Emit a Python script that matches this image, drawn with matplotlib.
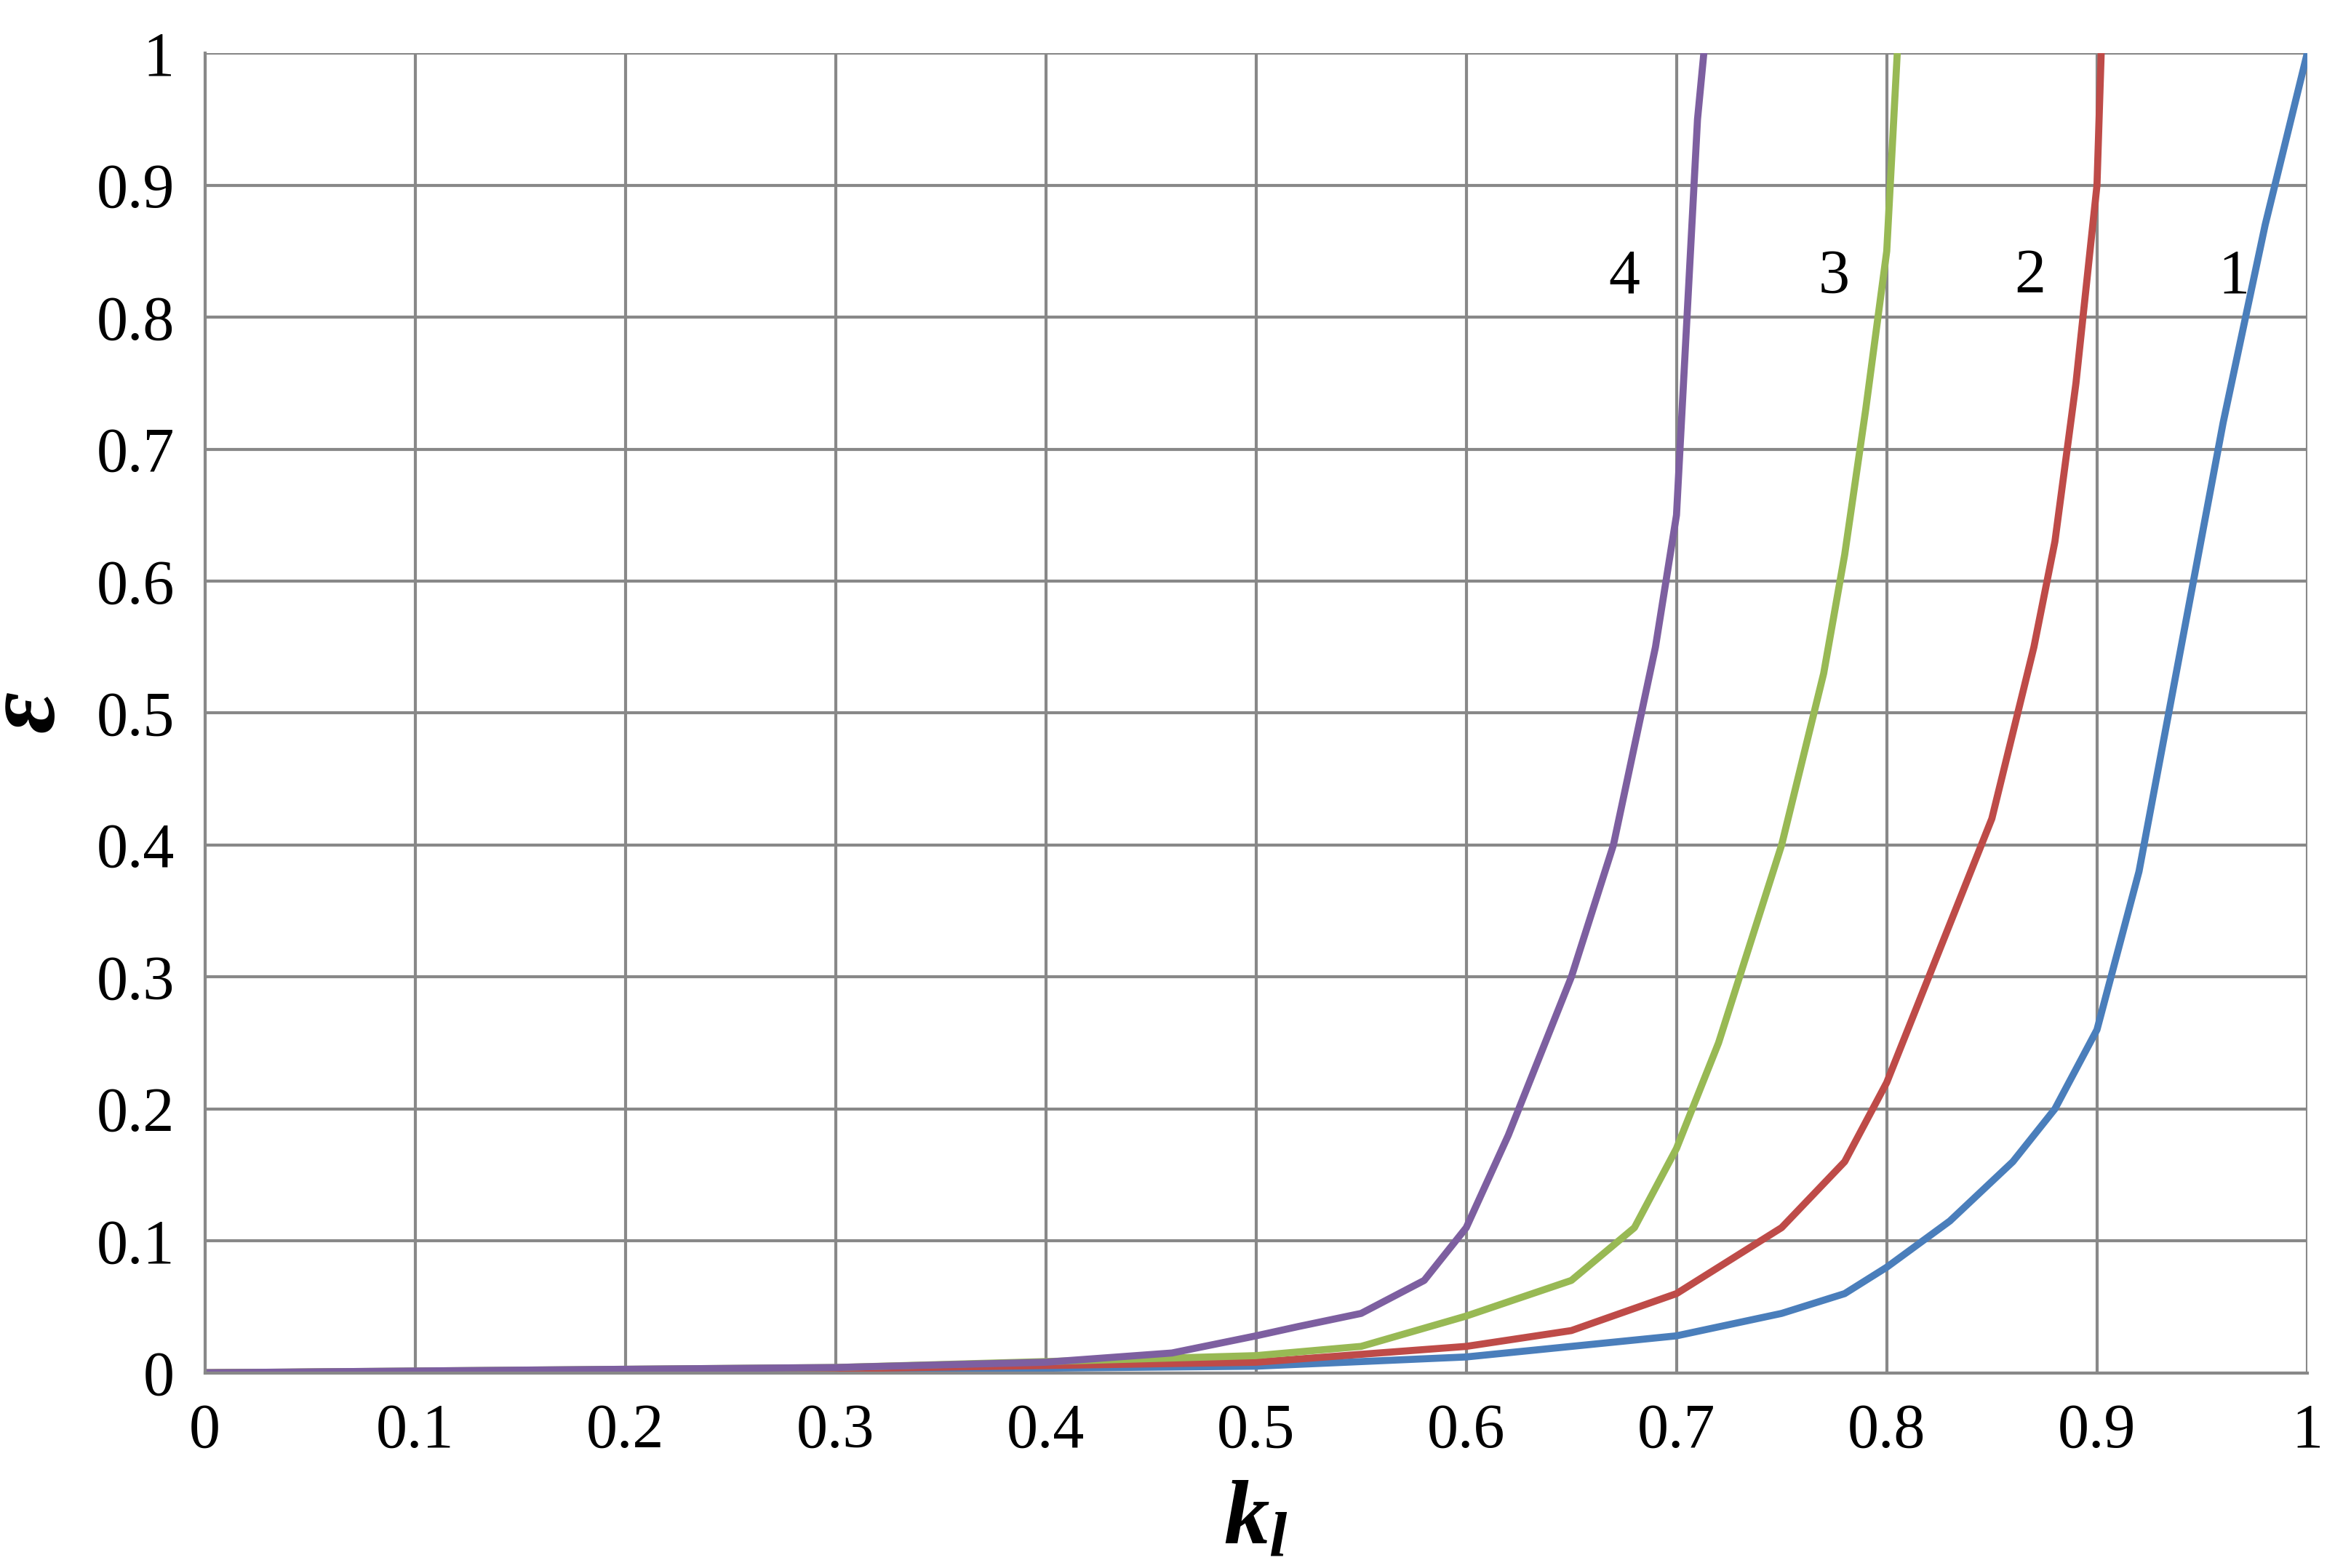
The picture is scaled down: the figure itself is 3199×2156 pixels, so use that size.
import matplotlib
matplotlib.use("Agg")
import matplotlib.pyplot as plt

plt.rcParams['font.family'] = ['Liberation Serif', 'DejaVu Serif']
plt.rcParams['mathtext.fontset'] = 'custom'
plt.rcParams['mathtext.it'] = 'Liberation Serif:italic:bold'
plt.rcParams['mathtext.rm'] = 'Liberation Serif:bold'

x1 = [0, 0.3, 0.5, 0.6, 0.7, 0.75, 0.78, 0.8, 0.83, 0.86, 0.88, 0.9, 0.92, 0.94, 0.96, 0.98, 1.0]
y1 = [0, 0.002, 0.005, 0.012, 0.028, 0.045, 0.06, 0.08, 0.115, 0.16, 0.2, 0.26, 0.38, 0.55, 0.72, 0.87, 1.0]
x2 = [0, 0.3, 0.5, 0.6, 0.65, 0.7, 0.75, 0.78, 0.8, 0.82, 0.85, 0.87, 0.88, 0.89, 0.9, 0.902]
y2 = [0, 0.003, 0.008, 0.02, 0.032, 0.06, 0.11, 0.16, 0.22, 0.3, 0.42, 0.55, 0.63, 0.75, 0.9, 1.0]
x3 = [0, 0.3, 0.5, 0.55, 0.6, 0.65, 0.68, 0.7, 0.72, 0.75, 0.77, 0.78, 0.79, 0.8, 0.805]
y3 = [0, 0.004, 0.013, 0.02, 0.043, 0.07, 0.11, 0.17, 0.25, 0.4, 0.53, 0.62, 0.73, 0.85, 1.0]
x4 = [0, 0.3, 0.4, 0.46, 0.5, 0.52, 0.55, 0.58, 0.6, 0.62, 0.65, 0.67, 0.69, 0.7, 0.705, 0.71, 0.713]
y4 = [0, 0.004, 0.008, 0.015, 0.028, 0.035, 0.045, 0.07, 0.11, 0.18, 0.3, 0.4, 0.55, 0.65, 0.8, 0.95, 1.0]
colors = ['#4a7ebb', '#be4b48', '#98b954', '#7d5fa0']
labels = ['1', '2', '3', '4']
label_pos = [(0.965, 0.83), (0.868, 0.83), (0.775, 0.83), (0.675, 0.83)]

fig = plt.figure(figsize=(31.99, 21.56), dpi=100)
ax = fig.add_axes([0.088, 0.1245, 0.9035, 0.8415])
for xs, ys, c in zip([x1, x2, x3, x4], [y1, y2, y3, y4], colors):
    ax.plot(xs, ys, color=c, lw=7, solid_joinstyle='round', solid_capstyle='round')
for (lx, ly), t in zip(label_pos, labels):
    ax.text(lx, ly, t, fontsize=62, ha='center', va='center')
ax.set_xlim(0, 1)
ax.set_ylim(0, 1)
ticks = [0, 0.1, 0.2, 0.3, 0.4, 0.5, 0.6, 0.7, 0.8, 0.9, 1]
ticklabels = ['0', '0.1', '0.2', '0.3', '0.4', '0.5', '0.6', '0.7', '0.8', '0.9', '1']
ax.set_xticks(ticks, ticklabels)
ax.set_yticks(ticks, ticklabels)
ax.tick_params(labelsize=62, length=0, pad=30)
ax.grid(True, color='#888888', lw=3)
for s in ['top', 'right']:
    ax.spines[s].set_visible(False)
for s in ['left', 'bottom']:
    ax.spines[s].set_color('#888888')
    ax.spines[s].set_linewidth(3)
ax.set_xlabel(r'$k_l$', fontsize=90, labelpad=20)
ax.set_ylabel(r'$\varepsilon$', fontsize=100, labelpad=20, rotation=90)
fig.savefig('out.png', dpi=100)
